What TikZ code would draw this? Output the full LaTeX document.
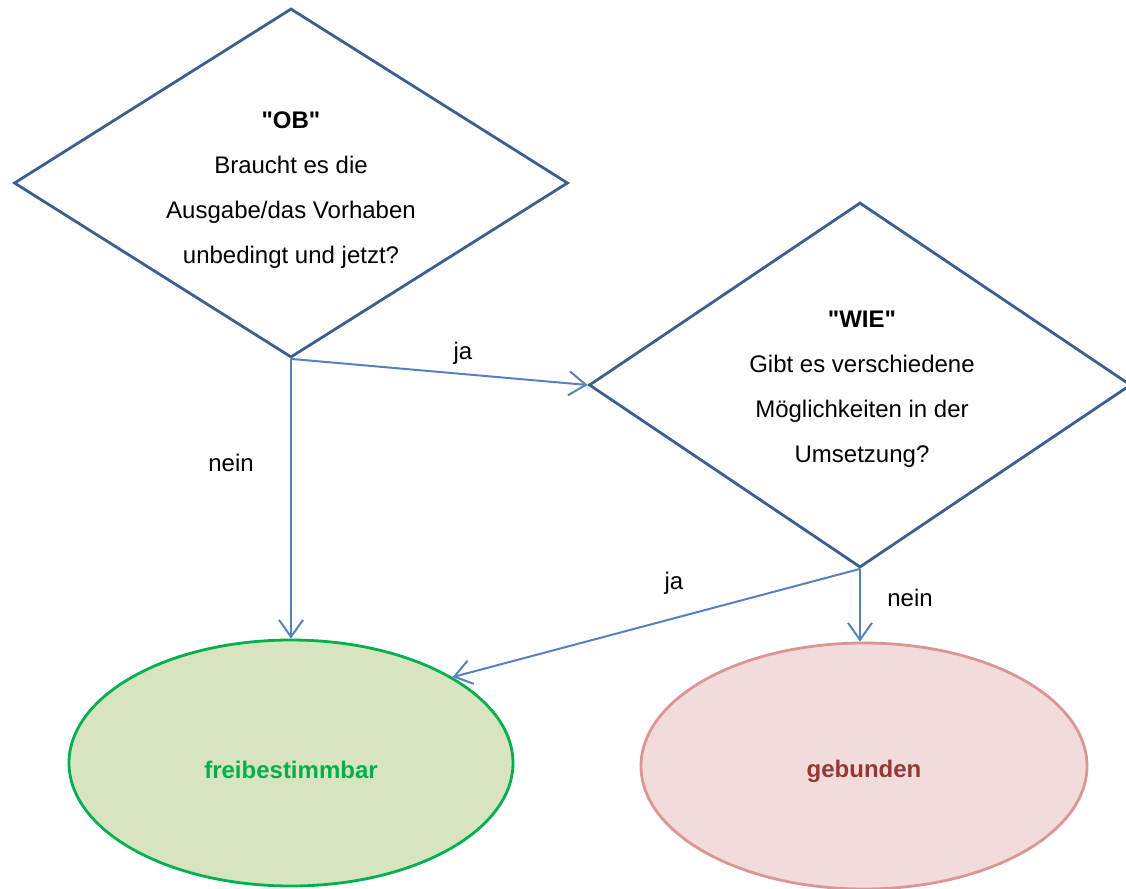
\documentclass[tikz,border=0pt]{standalone}
\usepackage{fontspec}
\setmainfont{Liberation Sans}
\usetikzlibrary{shapes.geometric,arrows.meta}
\definecolor{rautenblau}{HTML}{3B5F8E}
\definecolor{pfeilblau}{HTML}{5581C0}
\definecolor{gruenrand}{HTML}{00B050}
\definecolor{gruenfill}{HTML}{D7E4BD}
\definecolor{rotrand}{HTML}{D99694}
\definecolor{rotfill}{HTML}{F2DCDB}
\definecolor{rottext}{HTML}{953735}

\begin{document}
\begin{tikzpicture}
  [x=0.5pt, y=-0.5pt,
   every node/.style={font=\fontsize{12}{22.5}\selectfont, inner sep=0pt},
   frage/.style={diamond, draw=rautenblau, line width=1.4pt},
   fragetext/.style={align=center},
   ergebnis/.style={ellipse, line width=1.4pt, font=\fontsize{12}{14}\selectfont\bfseries},
   pfeil/.style={draw=pfeilblau, line width=1pt, -{Straight Barb[length=8.5pt,width=12pt]}}]
  \useasboundingbox (0,0) rectangle (1126,889);
  \node[frage, minimum width=277pt, minimum height=174.5pt] (ob) at (291,183) {};
  \node[fragetext] (obtext) at (291,190)
    {\textbf{\textquotedbl OB\textquotedbl}\\Braucht es die\\Ausgabe/das Vorhaben\\unbedingt und jetzt?};
  \node[frage, minimum width=271pt, minimum height=182.5pt] (wie) at (860,385) {};
  \node[fragetext] (wietext) at (862,389)
    {\textbf{\textquotedbl WIE\textquotedbl}\\Gibt es verschiedene\\Möglichkeiten in der\\Umsetzung?};
  \node[ergebnis, draw=gruenrand, fill=gruenfill, text=gruenrand,
        minimum width=222pt, minimum height=123pt] (frei) at (291,763) {};
  \node[text=gruenrand, font=\fontsize{12}{14}\selectfont\bfseries] (freitext) at (291,770) {freibestimmbar};
  \node[ergebnis, draw=rotrand, fill=rotfill, text=rottext,
        minimum width=223pt, minimum height=123pt] (geb) at (864,766) {};
  \node[text=rottext, font=\fontsize{12}{14}\selectfont\bfseries] (gebtext) at (864,771) {gebunden};
  \draw[pfeil] (ob.south) -- (ob.south |- frei.north);
  \draw[pfeil] (ob.south) -- (wie.west);
  \draw[pfeil] (wie.south) -- (frei.28);
  \draw[pfeil] (wie.south) -- (wie.south |- geb.north);
  \node (ja1) at (463,353) {ja};
  \node (nein1) at (231,463) {nein};
  \node (ja2) at (674,583) {ja};
  \node (nein2) at (910,598) {nein};
\end{tikzpicture}
\end{document}
